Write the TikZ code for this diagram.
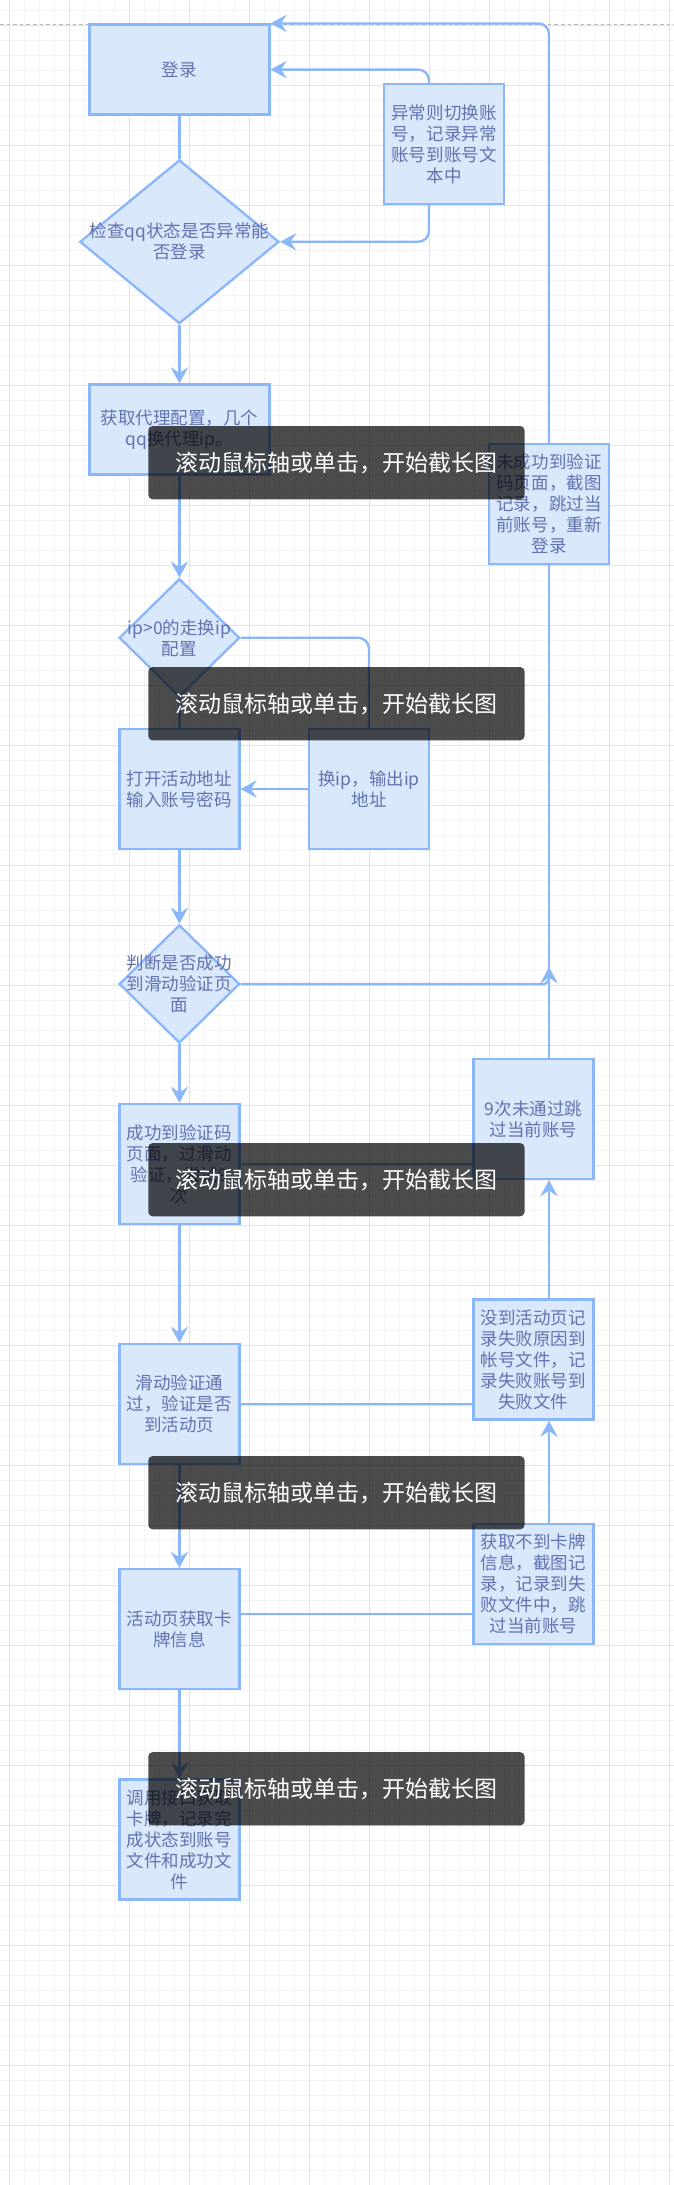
\documentclass[tikz,border=0pt]{standalone}
\usepackage{fontspec}
\setmainfont{Noto Sans CJK SC}
\usetikzlibrary{shapes.geometric}
\usetikzlibrary{arrows.meta}

\definecolor{boxfill}{HTML}{DAE8FC}
\definecolor{boxline}{HTML}{8AB6FA}
\definecolor{boxtext}{HTML}{6272AE}
\definecolor{gridmajor}{HTML}{E3E3E3}
\definecolor{gridminor}{HTML}{F4F4F4}

\tikzset{
  stepbox/.style={draw=boxline, fill=boxfill, line width=1.1pt, minimum width=2cm,
    minimum height=2cm, inner sep=0pt, align=center, text=boxtext,
    font=\fontsize{8.3pt}{9.96pt}\selectfont},
  widebox/.style={stepbox, minimum width=3cm, minimum height=1.5cm},
  choice/.style={diamond, draw=boxline, fill=boxfill, line width=1.1pt, inner sep=0pt},
  choicetext/.style={align=center, text=boxtext, inner sep=0pt,
    font=\fontsize{8.3pt}{9.96pt}\selectfont},
  flow/.style={draw=boxline, line width=1.1pt, rounded corners=0.18cm},
  flowarrow/.style={flow, -{Stealth[length=0.27cm, width=0.29cm, inset=0.1cm]}},
  shot/.style={fill=black, fill opacity=0.7, text opacity=1, text=white,
    rounded corners=0.07cm, minimum width=6.27cm, minimum height=1.22cm, inner sep=0pt,
    font=\fontsize{10.9pt}{13pt}\selectfont},
}

\begin{document}
\begin{tikzpicture}[x=1cm, y=-1cm]

\useasboundingbox (0,0) rectangle (11.233,36.417);
\fill[white] (0,0) rectangle (11.233,36.417);

%grid
\foreach \gx in {0,...,44}
  \draw[gridminor, line width=0.45pt] ({0.158+0.25*\gx},0) -- ({0.158+0.25*\gx},36.417);
\foreach \gy in {0,...,145}
  \draw[gridminor, line width=0.45pt] (0,{0.167+0.25*\gy}) -- (11.233,{0.167+0.25*\gy});
\foreach \gx in {0,...,11}
  \draw[gridmajor, line width=0.45pt] ({0.158+\gx},0) -- ({0.158+\gx},36.417);
\foreach \gy in {0,...,36}
  \draw[gridmajor, line width=0.45pt] (0,{0.417+\gy}) -- (11.233,{0.417+\gy});
\draw[gray!55, line width=0.45pt, dash pattern=on 0.06cm off 0.05cm] (0,0.405) -- (11.233,0.405);

%left column
\node[widebox] (login) at (2.99,1.16) {登录};
\node[choice, minimum width=3.32cm, minimum height=2.73cm] (chk) at (2.99,4.03) {};
\node[choicetext] (chk-t) at (chk) {检查qq状态是否异常能\\否登录};
\node[widebox] (proxy) at (2.99,7.16) {获取代理配置，几个\\qq换代理ip。};
\node[choice, minimum width=2.01cm, minimum height=1.97cm] (ipchk) at (2.99,10.63) {};
\node[choicetext] (ipchk-t) at (ipchk) {ip>0的走换ip\\配置};
\node[stepbox] (openact) at (2.99,13.15) {打开活动地址\\输入账号密码};
\node[choice, minimum width=2.01cm, minimum height=1.97cm] (slidechk) at (2.99,16.40) {};
\node[choicetext] (slidechk-t) at (slidechk) {判断是否成功\\到滑动验证页\\面};
\node[stepbox] (verify) at (2.99,19.40) {成功到验证码\\页面，过滑动\\验证，尝试9\\次};
\node[stepbox] (passchk) at (2.99,23.40) {滑动验证通\\过，验证是否\\到活动页};
\node[stepbox] (cardget) at (2.99,27.15) {活动页获取卡\\牌信息};
\node[stepbox] (apicall) at (2.99,30.66) {调用接口获取\\卡牌，记录完\\成状态到账号\\文件和成功文\\件};

%right column
\node[stepbox] (errsw) at (7.40,2.40) {异常则切换账\\号，记录异常\\账号到账号文\\本中};
\node[stepbox] (swapip) at (6.15,13.15) {换ip，输出ip\\地址};
\node[stepbox] (failpg) at (9.15,8.40) {未成功到验证\\码页面，截图\\记录，跳过当\\前账号，重新\\登录};
\node[stepbox] (ninefail) at (8.89,18.65) {9次未通过跳\\过当前账号};
\node[stepbox] (noact) at (8.89,22.66) {没到活动页记\\录失败原因到\\帐号文件，记\\录失败账号到\\失败文件};
\node[stepbox] (nocard) at (8.89,26.40) {获取不到卡牌\\信息，截图记\\录，记录到失\\败文件中，跳\\过当前账号};

\coordinate (rail) at (9.15,0);
\coordinate (join) at (9.15,16.12);

%connectors
\draw[flow] (login.south) -- (chk.north);
\draw[flowarrow] (chk.south) -- (proxy.north);
\draw[flowarrow] ([xshift=-0.25cm]errsw.north) |- (login.east);
\draw[flowarrow] ([xshift=-0.25cm]errsw.south) |- (chk.east);
\draw[flowarrow] (failpg.north) |- (login.north east);
\draw[flowarrow] (proxy.south) -- (ipchk.north);
\draw[flow] (ipchk.south) -- (openact.north);
\draw[flow] (ipchk.east) -| (swapip.north);
\draw[flowarrow] (swapip.west) -- (openact.east);
\draw[flowarrow] (openact.south) -- (slidechk.north);
\draw[flowarrow, rounded corners=0.1cm] (slidechk.east) -| (join);
\draw[flow] (rail |- ninefail.north) -- (rail |- failpg.south);
\draw[flowarrow] (slidechk.south) -- (verify.north);
\draw[flow] (verify.east) -- (verify.east -| ninefail.west);
\draw[flowarrow] (verify.south) -- (passchk.north);
\draw[flow] (passchk.east) -- (passchk.east -| noact.west);
\draw[flowarrow] (rail |- noact.north) -- (rail |- ninefail.south);
\draw[flowarrow] (rail |- nocard.north) -- (rail |- noact.south);
\draw[flowarrow] (passchk.south) -- (cardget.north);
\draw[flow] ([yshift=0.245cm]cardget.east) -- ([yshift=0.245cm]cardget.east -| nocard.west);
\draw[flowarrow] (cardget.south) -- (apicall.north);

%screenshot hints
\node[shot] (shot1) at (5.607,7.711) {滚动鼠标轴或单击，开始截长图};
\node[shot] (shot2) at (5.607,11.729) {滚动鼠标轴或单击，开始截长图};
\node[shot] (shot3) at (5.607,19.662) {滚动鼠标轴或单击，开始截长图};
\node[shot] (shot4) at (5.607,24.878) {滚动鼠标轴或单击，开始截长图};
\node[shot] (shot5) at (5.607,29.813) {滚动鼠标轴或单击，开始截长图};

\end{tikzpicture}
\end{document}
